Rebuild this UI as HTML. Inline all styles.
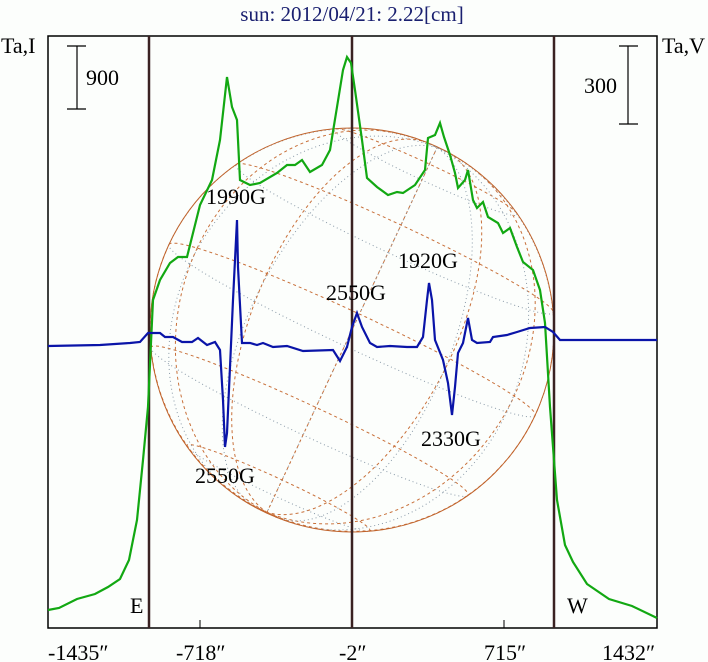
<!DOCTYPE html><html><head><meta charset="utf-8"><style>
body{margin:0;background:#fff;}
svg{display:block;font-family:"Liberation Serif",serif;}
</style></head><body>
<svg id="s" width="708" height="662" viewBox="0 0 708 662" xmlns="http://www.w3.org/2000/svg">
<rect width="708" height="662" fill="#fcfefc"/>
<g id="grid"></g>
<circle cx="352" cy="330" r="202" fill="none" stroke="#c0622a" stroke-width="1"/>
<rect x="48" y="36" width="609" height="592" fill="none" stroke="#000" stroke-width="1.5"/>
<line x1="149" y1="36" x2="149" y2="628" stroke="#3a2222" stroke-width="2.5"/>
<line x1="352" y1="36" x2="352" y2="628" stroke="#3a2222" stroke-width="2.5"/>
<line x1="554" y1="36" x2="554" y2="628" stroke="#3a2222" stroke-width="2.5"/>
<line x1="200" y1="620" x2="200" y2="628" stroke="#000"/>
<line x1="504" y1="620" x2="504" y2="628" stroke="#000"/>
<g stroke="#000" stroke-width="1.2">
<line x1="77" y1="46" x2="77" y2="109"/><line x1="67" y1="46" x2="86" y2="46"/><line x1="67" y1="109" x2="86" y2="109"/>
<line x1="628" y1="46" x2="628" y2="124"/><line x1="619" y1="46" x2="638" y2="46"/><line x1="619" y1="124" x2="638" y2="124"/>
</g>
<polyline id="g" fill="none" stroke="#12a812" stroke-width="2.2" points="48,610 59,608 77,599 95,594 108,587 120,579 129,560 137,520 143,460 148,407 153,300 160,280 170,263 178,257 187,257 200,205 212,180 220,140 227,77 232,107 237,120 240,180 250,185 260,183 277,173 287,165 295,165 302,160 310,172 322,165 330,150 337,107 343,70 347,57 351,63 355,90 362,140 367,178 377,187 388,195 397,192 403,193 415,185 425,170 428,138 435,135 440,123 444,137 450,155 455,173 458,188 465,180 468,170 473,200 477,208 483,202 488,217 498,223 503,233 510,228 517,247 523,262 533,270 540,290 545,323 550,407 557,500 565,545 573,562 587,584 609,599 632,606 657,618"/>
<polyline fill="none" stroke="#0a14a8" stroke-width="2.2" points="48,346 100,345 130,343 140,342 148,333 160,333 165,337 173,337 182,342 192,342 198,338 207,345 215,342 220,350 223,400 225,447 227,433 230,367 233,300 237,220 238,267 242,343 250,343 257,345 263,343 273,347 287,346 303,351 333,350 340,361 347,347 352,327 357,313 362,327 370,343 377,347 390,346 407,347 417,347 423,337 427,300 429,283 432,300 435,340 443,360 448,383 452,415 455,387 458,353 463,343 468,318 472,340 477,343 490,342 493,337 507,335 517,332 530,328 545,327 553,332 560,340 600,340 657,340"/>
<g font-size="22" fill="#000">
<text x="1" y="53">Ta,I</text>
<text x="662" y="53">Ta,V</text>
<text x="86" y="85">900</text>
<text x="584" y="93">300</text>
<text x="206" y="204">1990G</text>
<text x="326" y="300">2550G</text>
<text x="398" y="268">1920G</text>
<text x="421" y="446">2330G</text>
<text x="195" y="483">2550G</text>
<text x="130" y="613">E</text>
<text x="567" y="613">W</text>
<text x="48" y="660">-1435″</text>
<text x="176" y="660">-718″</text>
<text x="339" y="660">-2″</text>
<text x="484" y="660">715″</text>
<text x="602" y="660">1432″</text>
</g>
<text x="352" y="21" font-size="21" fill="#1a2070" text-anchor="middle">sun: 2012/04/21: 2.22[cm]</text>
</svg>
<script>
(function(){
var cx=352,cy=330,R=202,B=-5*Math.PI/180,P=-25*Math.PI/180;
var g=document.getElementById('grid'),ns='http://www.w3.org/2000/svg';
function proj(lat,lon){var x=Math.cos(lat)*Math.sin(lon),y=Math.sin(lat),z=Math.cos(lat)*Math.cos(lon);
var y2=y*Math.cos(B)-z*Math.sin(B),z2=y*Math.sin(B)+z*Math.cos(B);
var xr=x*Math.cos(P)-y2*Math.sin(P),yr=x*Math.sin(P)+y2*Math.cos(P);
return [cx+R*xr,cy-R*yr,z2];}
function line(pts,front){if(pts.length<2)return;var p=document.createElementNS(ns,'polyline');
p.setAttribute('points',pts.map(function(a){return a[0].toFixed(1)+','+a[1].toFixed(1)}).join(' '));
p.setAttribute('fill','none');p.setAttribute('stroke-width','1');
if(front){p.setAttribute('stroke','#c8703a');p.setAttribute('stroke-dasharray','3,3');}
else{p.setAttribute('stroke','#8a9aa8');p.setAttribute('stroke-dasharray','1,3');}
g.appendChild(p);}
function trace(f){var cur=[],fr=null;for(var i=0;i<=180;i++){var q=f(i/180);var isF=q[2]>=0;
if(fr===null)fr=isF;if(isF!==fr){cur.push(q);line(cur,fr);cur=[q];fr=isF;}else cur.push(q);}line(cur,fr);}
var d=Math.PI/180;
for(var la=-60;la<=60;la+=30){(function(la){trace(function(t){return proj(la*d,(t*360-180)*d);});})(la);}
for(var lo=0;lo<180;lo+=30){(function(lo){trace(function(t){return proj((t*360-180)*d,lo*d);});})(lo);}
})();
</script>
</body></html>
